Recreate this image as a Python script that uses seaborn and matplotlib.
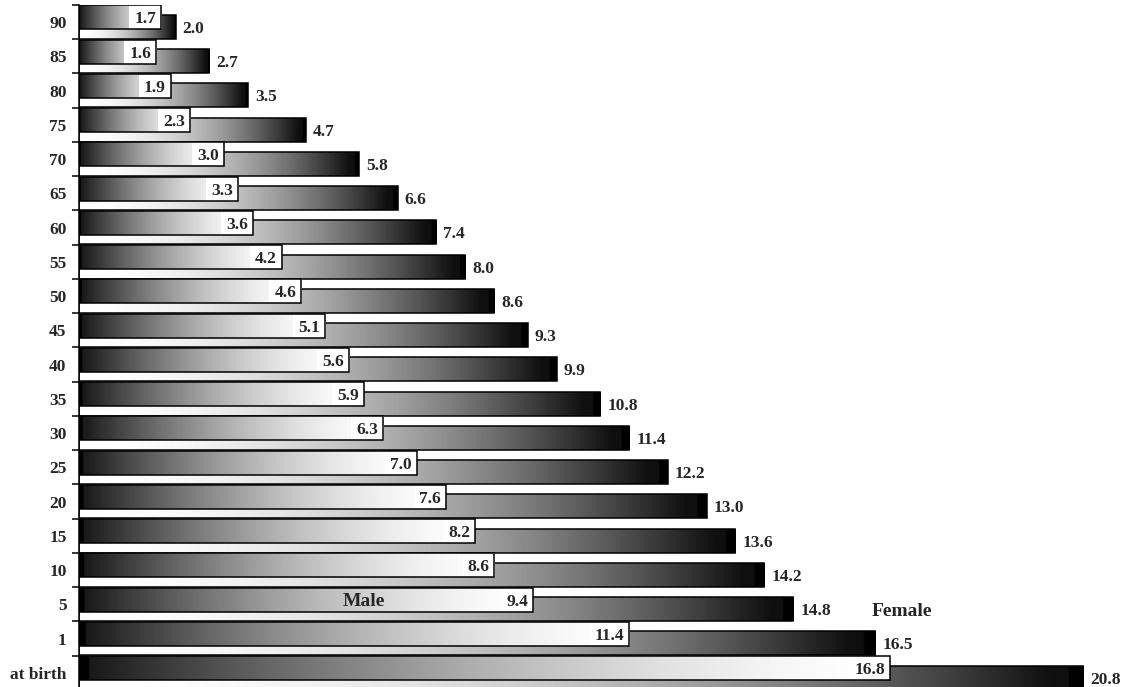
import numpy as np
import pandas as pd
import matplotlib
matplotlib.use("Agg")
import matplotlib.pyplot as plt
import seaborn as sns
from matplotlib.ticker import FixedLocator

# Life expectancy remaining (years) by age
ages = ["90", "85", "80", "75", "70", "65", "60", "55", "50", "45",
        "40", "35", "30", "25", "20", "15", "10", "5", "1", "at birth"]
male = [1.7, 1.6, 1.9, 2.3, 3.0, 3.3, 3.6, 4.2, 4.6, 5.1,
        5.6, 5.9, 6.3, 7.0, 7.6, 8.2, 8.6, 9.4, 11.4, 16.8]
female = [2.0, 2.7, 3.5, 4.7, 5.8, 6.6, 7.4, 8.0, 8.6, 9.3,
          9.9, 10.8, 11.4, 12.2, 13.0, 13.6, 14.2, 14.8, 16.5, 20.8]
series_names = ["Male", "Female"]

df = pd.DataFrame({"age": ages, "male": male, "female": female})

sns.set_style("white")
plt.rcParams["font.family"] = ["Liberation Serif", "DejaVu Serif"]
plt.rcParams["font.weight"] = "bold"

W, H, DPI = 1125, 687, 100
fig = plt.figure(figsize=(W / DPI, H / DPI), dpi=DPI)
ax_left, ax_right, ax_top, ax_bottom = 79, 1120, 5, 690
ax = fig.add_axes([ax_left / W, 1 - ax_bottom / H,
                   (ax_right - ax_left) / W, (ax_bottom - ax_top) / H])

BAR_H = 0.7
SHIFT = 0.14
EDGE_LW = 1.1

# Female bars (behind, shifted down)
sns.barplot(data=df, x="female", y="age", orient="h", width=BAR_H,
            color="white", edgecolor="black", linewidth=EDGE_LW,
            errorbar=None, ax=ax)
n = len(ages)
fem_patches = list(ax.patches[:n])
# Male bars (in front, shifted up)
sns.barplot(data=df, x="male", y="age", orient="h", width=BAR_H,
            color="white", edgecolor="black", linewidth=EDGE_LW,
            errorbar=None, ax=ax)
male_patches = list(ax.patches[n:2 * n])

N = 400
f = np.linspace(0, 1, N)
# male: dark on the left fading to white toward the end
male_grad = 0.08 + 0.92 * (1 - (1 - f) ** 1.6)
male_grad[f < 0.012] = 0.0
# female: white on the left darkening toward black at the end
fem_grad = np.clip(1 - f ** 2, 0.06, 1)
fem_grad[f > 0.985] = 0.0


def shade(patch, grad, z_img, z_edge):
    x0 = patch.get_x()
    w = patch.get_width()
    y0 = patch.get_y()
    h = patch.get_height()
    im = ax.imshow(grad[np.newaxis, :], cmap="gray", vmin=0, vmax=1,
                   extent=(x0, x0 + w, y0 + h, y0), aspect="auto",
                   interpolation="bilinear", zorder=z_img)
    im.set_clip_path(patch)
    patch.set_facecolor("none")
    patch.set_zorder(z_edge)


male_centers, fem_centers = [], []
for p in fem_patches:
    p.set_y(p.get_y() + SHIFT)
    fem_centers.append(p.get_y() + p.get_height() / 2)
    shade(p, fem_grad, 2, 3)
for p in male_patches:
    p.set_y(p.get_y() - SHIFT)
    male_centers.append(p.get_y() + p.get_height() / 2)
    shade(p, male_grad, 4, 6)

VAL_FS = 12.5
for p, v, yc in zip(male_patches, male, male_centers):
    t = ax.annotate(f"{v:.1f}", xy=(v, yc), xytext=(-3.5, 0),
                    textcoords="offset points", ha="right",
                    va="center_baseline", fontsize=VAL_FS, fontweight="bold",
                    zorder=5,
                    bbox=dict(boxstyle="square,pad=0.3", fc="white",
                              ec="none"))
    t.set_clip_on(True)
    t.set_clip_path(p)

for v, yc in zip(female, fem_centers):
    ax.annotate(f"{v:.1f}", xy=(v, yc), xytext=(5, 0),
                textcoords="offset points", ha="left",
                va="center_baseline", fontsize=VAL_FS, fontweight="bold",
                annotation_clip=False, zorder=7)

# series labels on the "5" row
row5 = ages.index("5")
ax.text(5.9, male_centers[row5], series_names[0], ha="center",
        va="center_baseline", fontsize=14, fontweight="bold", zorder=7)
ax.text(17.05, fem_centers[row5], series_names[1], ha="center",
        va="center_baseline", fontsize=14, fontweight="bold", zorder=7)

ax.set_xlim(0, (ax_right - ax_left) / 48.27)
ax.set_ylim(n - 0.5, -0.5)
ax.set_xlabel("")
ax.set_ylabel("")
ax.set_xticks([])
ax.set_yticks(range(n))
ax.set_yticklabels(ages, fontsize=VAL_FS, fontweight="bold")
ax.yaxis.set_minor_locator(FixedLocator(np.arange(-0.5, n, 1.0)))
ax.tick_params(axis="y", which="major", length=0, pad=9)
ax.tick_params(axis="y", which="minor", length=5, width=1.1,
               direction="out", color="black", left=True)
for side in ["top", "right", "bottom"]:
    ax.spines[side].set_visible(False)
ax.spines["left"].set_color("black")
ax.spines["left"].set_linewidth(1.1)
ax.patch.set_alpha(0)

fig.savefig("out.png", dpi=DPI)
